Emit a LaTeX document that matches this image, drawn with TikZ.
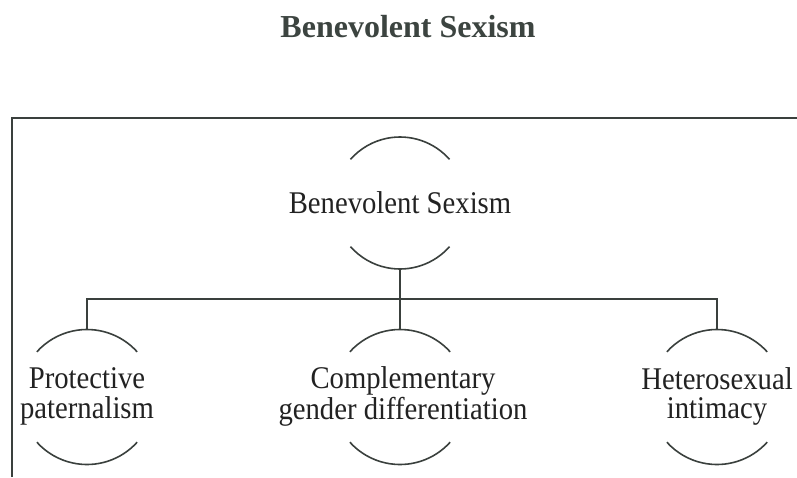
\documentclass[tikz,border=0pt]{standalone}
\usepackage{graphicx}
\usepackage{fontspec}
\setmainfont{Liberation Serif}
\definecolor{linec}{HTML}{3A403D}
\definecolor{textc}{HTML}{222222}
\definecolor{titlec}{HTML}{3C4440}
\newcommand{\tallbox}[1]{\scalebox{1}[1.1]{\begin{tabular}{@{}c@{}}#1\end{tabular}}}
\begin{document}
\begin{tikzpicture}[x=1pt,y=1pt,
  lbl/.style={inner sep=0pt,align=center,text=textc,font=\fontsize{28.7}{25.5}\selectfont},
  ttl/.style={inner sep=0pt,text=titlec,font=\fontsize{32}{32}\selectfont\bfseries},
  arcline/.style={draw=linec,line width=1.6pt},
  conn/.style={draw=linec,line width=2pt},
  frame/.style={draw=linec,line width=1.8pt}]
\useasboundingbox[fill=white] (0,0) rectangle (797,-477);
% title
\node[ttl,anchor=base] (title) at (408,-37) {Benevolent Sexism};
% frame
\coordinate (fb) at (12,-477);
\coordinate (fc) at (12,-118);
\coordinate (fr) at (797,-118);
\draw[frame] (fb) -- (fc) -- (fr);
% nodes
\node[lbl] (root) at (400,-203) {\scalebox{1}[1.1]{Benevolent Sexism}};
\node[lbl] (c1) at (87,-397) {\tallbox{Protective\\paternalism}};
\node[lbl] (c2) at (403,-397) {\tallbox{Complementary\\gender differentiation}};
\node[lbl] (c3) at (717,-397) {\tallbox{Heterosexual\\intimacy}};
% arcs
\draw[arcline] ([shift={(41.4:66)}]root.center) arc[start angle=41.4,end angle=138.6,radius=66];
\draw[arcline] ([shift={(-41.4:66)}]root.center) arc[start angle=-41.4,end angle=-138.6,radius=66];
\foreach \c/\dx in {c1/0,c2/-3,c3/0}{
  \draw[arcline] ([shift={(42:67.5)},xshift=\dx pt]\c.center) arc[start angle=42,end angle=138,radius=67.5];
  \draw[arcline] ([shift={(-42:67.5)},xshift=\dx pt]\c.center) arc[start angle=-42,end angle=-138,radius=67.5];
}
% connector end points
\coordinate (rb) at ([yshift=-66pt]root.center);
\coordinate (t1) at ([yshift=67.5pt]c1.center);
\coordinate (t2) at ([yshift=67.5pt,xshift=-3pt]c2.center);
\coordinate (t3) at ([yshift=67.5pt]c3.center);
\coordinate (j) at ([yshift=-30pt]rb);
\draw[conn] (rb) -- (j);
\draw[conn] (t1) |- (j) -| (t3);
\draw[conn] (j) -- (t2);
\end{tikzpicture}
\end{document}
